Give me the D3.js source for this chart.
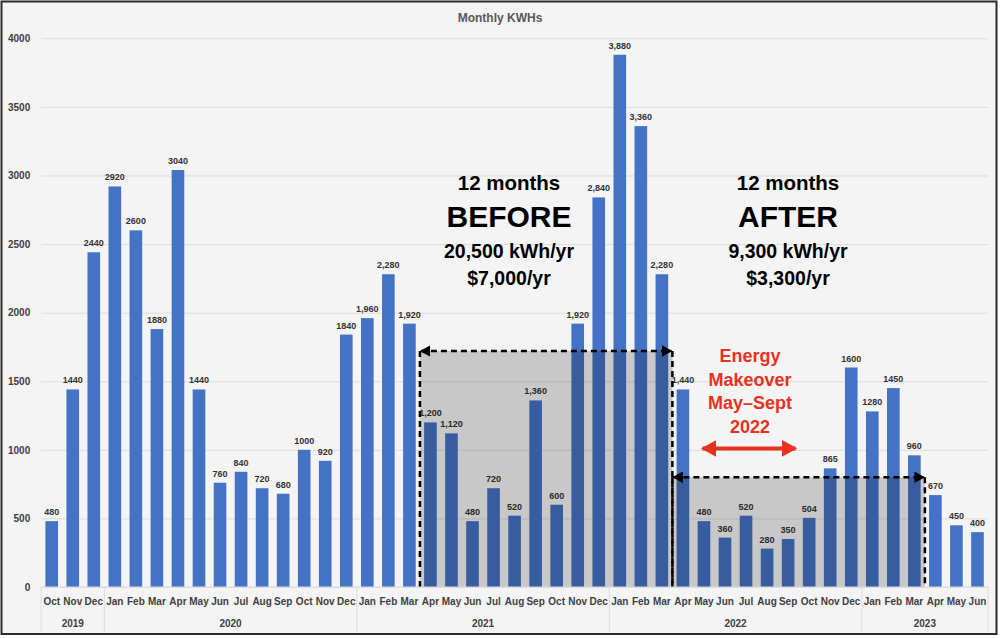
<!DOCTYPE html>
<html>
<head>
<meta charset="utf-8">
<script src="https://cdn.jsdelivr.net/npm/d3@7"></script>
<style>
  html, body { margin: 0; padding: 0; background: #fff; }
  svg { display: block; }
</style>
</head>
<body>
<svg id="chart" width="1000" height="638"></svg>
<script>
// monthly readings, Oct 2019 .. Jun 2023
const months = [
  'Oct', 'Nov', 'Dec',
  'Jan', 'Feb', 'Mar', 'Apr', 'May', 'Jun', 'Jul', 'Aug', 'Sep', 'Oct', 'Nov', 'Dec',
  'Jan', 'Feb', 'Mar', 'Apr', 'May', 'Jun', 'Jul', 'Aug', 'Sep', 'Oct', 'Nov', 'Dec',
  'Jan', 'Feb', 'Mar', 'Apr', 'May', 'Jun', 'Jul', 'Aug', 'Sep', 'Oct', 'Nov', 'Dec',
  'Jan', 'Feb', 'Mar', 'Apr', 'May', 'Jun'
];
const years = ['2019', '2020', '2021', '2022', '2023'];
const yearMonths = [3, 12, 12, 12, 6];
const kwh = [
  480, 1440, 2440,
  2920, 2600, 1880, 3040, 1440, 760, 840, 720, 680, 1000, 920, 1840,
  1960, 2280, 1920, 1200, 1120, 480, 720, 520, 1360, 600, 1920, 2840,
  3880, 3360, 2280, 1440, 480, 360, 520, 280, 350, 504, 865, 1600,
  1280, 1450, 960, 670, 450, 400
];
// labels as printed on the chart (some with thousands separator, some not)
const barLabels = [
  '480', '1440', '2440',
  '2920', '2600', '1880', '3040', '1440', '760', '840', '720', '680', '1000', '920', '1840',
  '1,960', '2,280', '1,920', '1,200', '1,120', '480', '720', '520', '1,360', '600', '1,920', '2,840',
  '3,880', '3,360', '2,280', '1,440', '480', '360', '520', '280', '350', '504', '865', '1600',
  '1280', '1450', '960', '670', '450', '400'
];
const yTicks = [0, 500, 1000, 1500, 2000, 2500, 3000, 3500, 4000];

// highlighted periods: [first month index, last month index, box height in kWh]
const periods = [
  { name: 'before', from: 18, to: 29, level: 1720 },
  { name: 'after', from: 30, to: 41, level: 800 }
];
const beforeText = ['12 months', 'BEFORE', '20,500 kWh/yr', '$7,000/yr'];
const afterText = ['12 months', 'AFTER', '9,300 kWh/yr', '$3,300/yr'];
const makeoverText = ['Energy', 'Makeover', 'May\u2013Sept', '2022'];
const makeoverSpan = [31, 35];

const config = {
  'left': 41.2,
  'right': 988,
  'top': 38.3,
  'bottom': 587,
  'bar': '#4472c4',
  'grid': '#dcdcdc',
  'bg': '#f4f4f4',
  'text': '#404040',
  'red': '#e8321e',
  'font': '"Liberation Sans", Arial, sans-serif'
};

const svg = d3.select('#chart');

svg.append('rect')
  .attr('x', 1.5).attr('y', 1.5)
  .attr('width', 995).attr('height', 632.5)
  .attr('fill', config.bg)
  .attr('stroke', '#2b2b2b')
  .attr('stroke-width', 2);

const x = d3.scaleBand()
  .domain(d3.range(kwh.length))
  .range([config.left, config.right])
  .paddingInner(0.4)
  .paddingOuter(0.2);

const y = d3.scaleLinear()
  .domain([0, 4000])
  .range([config.bottom, config.top]);

const gap = (x.step() - x.bandwidth()) / 2;
const edge = i => x(i) - gap;
const mid = i => x(i) + x.bandwidth() / 2;

// title
svg.append('text')
  .attr('x', 500).attr('y', 22)
  .attr('text-anchor', 'middle')
  .style('font', `bold 12px ${config.font}`)
  .attr('fill', '#595959')
  .text('Monthly KWHs');

// gridlines + y labels
const yAxis = svg.append('g')
  .attr('transform', `translate(${config.left},0)`)
  .call(d3.axisLeft(y)
    .tickValues(yTicks)
    .tickFormat(d3.format('d'))
    .tickSize(-(config.right - config.left))
    .tickPadding(11));
yAxis.select('.domain').remove();
yAxis.selectAll('.tick line').attr('stroke', config.grid);
yAxis.selectAll('.tick text')
  .style('font', `bold 10px ${config.font}`)
  .attr('fill', config.text);

// bars
svg.append('g')
  .selectAll('rect')
  .data(kwh)
  .enter()
  .append('rect')
  .attr('x', (d, i) => x(i))
  .attr('y', d => y(d))
  .attr('width', x.bandwidth())
  .attr('height', d => y(0) - y(d))
  .attr('fill', config.bar);

// value labels
svg.append('g')
  .selectAll('text')
  .data(kwh)
  .enter()
  .append('text')
  .attr('x', (d, i) => mid(i))
  .attr('y', d => y(d) - 6)
  .attr('text-anchor', 'middle')
  .style('font', `bold 9px ${config.font}`)
  .attr('fill', '#333')
  .text((d, i) => barLabels[i]);

// arrow heads
const defs = svg.append('defs');
defs.append('marker')
  .attr('id', 'head')
  .attr('viewBox', '0 0 10 10')
  .attr('refX', 9).attr('refY', 5)
  .attr('markerWidth', 4.2).attr('markerHeight', 4.6)
  .attr('markerUnits', 'strokeWidth')
  .attr('preserveAspectRatio', 'none')
  .attr('orient', 'auto-start-reverse')
  .append('path')
  .attr('d', 'M0,0L10,5L0,10Z')
  .attr('fill', '#000');
defs.append('marker')
  .attr('id', 'redhead')
  .attr('viewBox', '0 0 10 10')
  .attr('refX', 9).attr('refY', 5)
  .attr('markerWidth', 3.8).attr('markerHeight', 4.2)
  .attr('markerUnits', 'strokeWidth')
  .attr('preserveAspectRatio', 'none')
  .attr('orient', 'auto-start-reverse')
  .append('path')
  .attr('d', 'M0,0L10,5L0,10Z')
  .attr('fill', config.red);

// shaded periods
const box = svg.append('g')
  .selectAll('g')
  .data(periods)
  .enter()
  .append('g');

box.append('rect')
  .attr('x', d => edge(d.from))
  .attr('y', d => y(d.level))
  .attr('width', d => edge(d.to + 1) - edge(d.from))
  .attr('height', d => y(0) - y(d.level))
  .attr('fill', 'rgba(0,0,0,0.18)');

box.append('path')
  .attr('d', d => `M${edge(d.from)},${y(d.level)}V${y(0)}M${edge(d.to + 1)},${y(d.level)}V${y(0)}`)
  .attr('stroke', '#000')
  .attr('stroke-width', 2.5)
  .attr('stroke-dasharray', '6,4')
  .attr('fill', 'none');

box.append('line')
  .attr('x1', d => edge(d.from) + 1)
  .attr('x2', d => edge(d.to + 1) - 1)
  .attr('y1', d => y(d.level))
  .attr('y2', d => y(d.level))
  .attr('stroke', '#000')
  .attr('stroke-width', 2.5)
  .attr('stroke-dasharray', '6,4')
  .attr('marker-start', 'url(#head)')
  .attr('marker-end', 'url(#head)');

// big annotations
const sizes = [20.5, 30, 19.5, 19.5];
const lineY = [190, 227, 258, 285];
function block(lines, cx) {
  svg.append('g')
    .selectAll('text')
    .data(lines)
    .enter()
    .append('text')
    .attr('x', cx)
    .attr('y', (d, i) => lineY[i])
    .attr('text-anchor', 'middle')
    .style('font', (d, i) => `bold ${sizes[i]}px ${config.font}`)
    .attr('fill', '#000')
    .text(d => d);
}
block(beforeText, 509);
block(afterText, 788);

// makeover note
svg.append('g')
  .selectAll('text')
  .data(makeoverText)
  .enter()
  .append('text')
  .attr('x', 750)
  .attr('y', (d, i) => 362 + i * 23.7)
  .attr('text-anchor', 'middle')
  .style('font', `bold 18px ${config.font}`)
  .attr('fill', config.red)
  .text(d => d);

svg.append('line')
  .attr('x1', mid(makeoverSpan[0]) - 1.5)
  .attr('x2', edge(makeoverSpan[1] + 1) - 3)
  .attr('y1', y(1010))
  .attr('y2', y(1010))
  .attr('stroke', config.red)
  .attr('stroke-width', 4)
  .attr('marker-start', 'url(#redhead)')
  .attr('marker-end', 'url(#redhead)');

// category axis: months then years
svg.append('line')
  .attr('x1', config.left).attr('x2', config.right)
  .attr('y1', y(0)).attr('y2', y(0))
  .attr('stroke', config.grid);

svg.append('g')
  .selectAll('text')
  .data(months)
  .enter()
  .append('text')
  .attr('x', (d, i) => mid(i))
  .attr('y', 605)
  .attr('text-anchor', 'middle')
  .style('font', `bold 10px ${config.font}`)
  .attr('fill', config.text)
  .text(d => d);

const starts = yearMonths.reduce((a, n, i) => a.concat(i ? a[i - 1] + yearMonths[i - 1] : 0), []);
const bounds = starts.concat(kwh.length);
svg.append('g')
  .selectAll('line')
  .data(bounds)
  .enter()
  .append('line')
  .attr('x1', d => d < kwh.length ? edge(d) : config.right)
  .attr('x2', d => d < kwh.length ? edge(d) : config.right)
  .attr('y1', y(0))
  .attr('y2', 632)
  .attr('stroke', config.grid);

svg.append('g')
  .selectAll('text')
  .data(years)
  .enter()
  .append('text')
  .attr('x', (d, i) => (edge(starts[i]) + (i + 1 < years.length ? edge(starts[i + 1]) : config.right)) / 2)
  .attr('y', 627)
  .attr('text-anchor', 'middle')
  .style('font', `bold 10px ${config.font}`)
  .attr('fill', config.text)
  .text(d => d);
</script>
</body>
</html>
